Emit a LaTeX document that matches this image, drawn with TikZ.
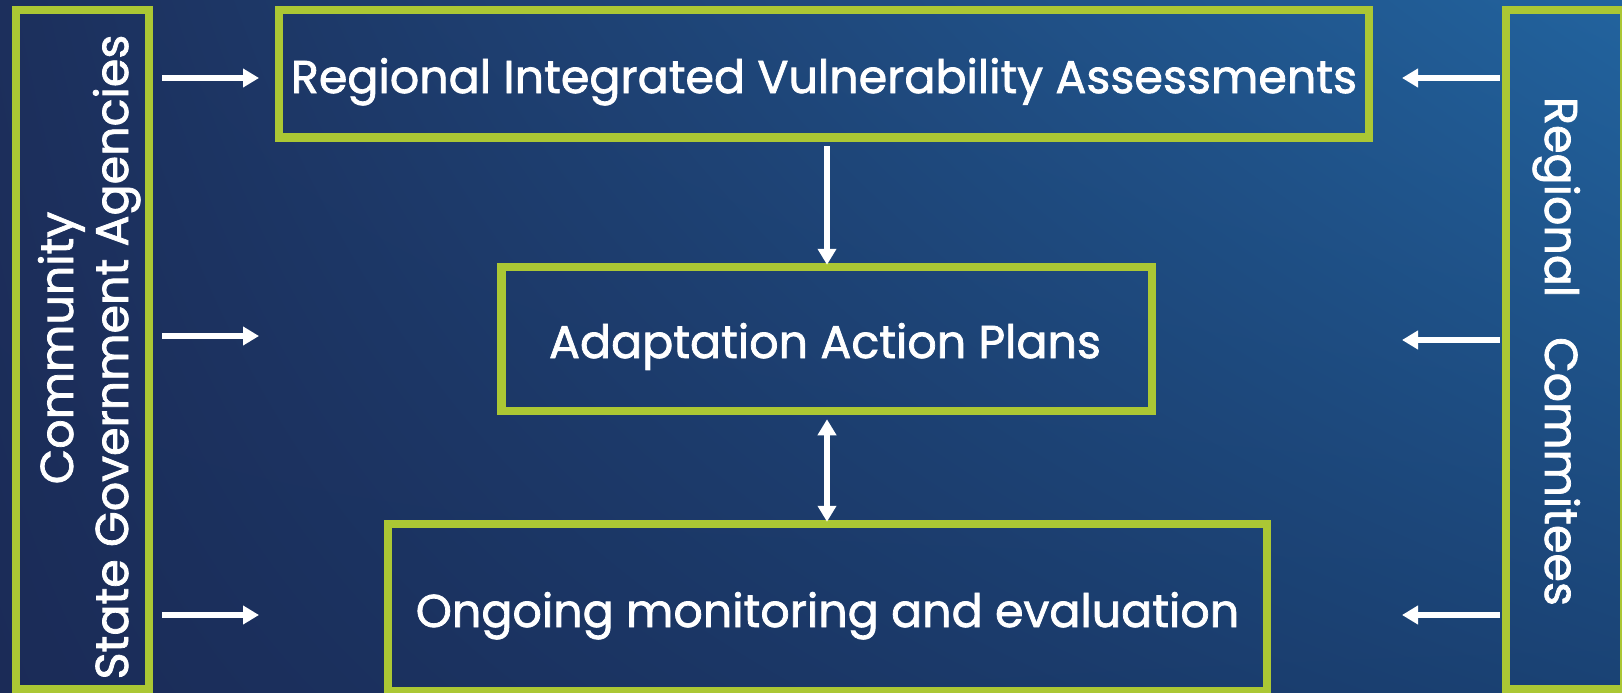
\documentclass[tikz,border=0pt]{standalone}
\usepackage{fontspec}
\setmainfont{Poppins}[FakeBold=1.6]
\usetikzlibrary{arrows.meta,shadings}
\definecolor{boxgreen}{RGB}{171,199,52}
\definecolor{bgUL}{RGB}{28,47,92}
\definecolor{bgUR}{RGB}{34,99,158}
\definecolor{bgLL}{RGB}{27,43,87}
\definecolor{bgLR}{RGB}{26,66,116}
\begin{document}
\begin{tikzpicture}[x=1pt,y=-1pt,
  box/.style={draw=boxgreen, line width=8.5pt, inner sep=0pt},
  lbl/.style={text=white, font=\fontsize{46}{54}\selectfont, inner sep=0pt, anchor=base},
  arr/.style={draw=white, line width=6pt, -{Triangle[width=18pt,length=16pt]}},
  darr/.style={draw=white, line width=6pt, {Triangle[width=18pt,length=16pt]}-{Triangle[width=18pt,length=16pt]}}]
\useasboundingbox (0,0) rectangle (1622,693);
\shade[upper left=bgUL, upper right=bgUR, lower left=bgLL, lower right=bgLR] (0,0) rectangle (1622,693);
% boxes
\node[box, minimum width=133pt, minimum height=679pt] (lbox) at (82.5,349.5) {};
\node[box, minimum width=118pt, minimum height=679pt] (rbox) at (1565,349.5) {};
\node[box, minimum width=1090pt, minimum height=127.5pt] (tbox) at (824,73.75) {};
\node[box, minimum width=650.5pt, minimum height=144pt] (mbox) at (826.75,339) {};
\node[box, minimum width=879pt, minimum height=167pt] (bbox) at (827.5,607.5) {};
% labels
\node[lbl] (ttxt) at (824,93) {Regional Integrated Vulnerability Assessments};
\node[lbl] (mtxt) at (825,358) {Adaptation Action Plans};
\node[lbl] (btxt) at (827.5,627) {Ongoing monitoring and evaluation};
\node[lbl, rotate=90] (l1txt) at (73,348) {Community};
\node[lbl, rotate=90] (l2txt) at (128,357) {State Government Agencies};
\node[lbl, rotate=-90] (rtxt) at (1545,351.5) {Regional\hspace{0.6em} Commitees};
% free arrow ends
\coordinate (la1) at (259,78);
\coordinate (la2) at (259,336);
\coordinate (la3) at (259,615);
\coordinate (ra1) at (1402,78);
\coordinate (ra2) at (1402,340);
\coordinate (ra3) at (1402,615);
\draw[arr, shorten <=9pt] (lbox.east |- la1) -- (la1);
\draw[arr, shorten <=9pt] (lbox.east |- la2) -- (la2);
\draw[arr, shorten <=9pt] (lbox.east |- la3) -- (la3);
\draw[arr, shorten <=2pt] (rbox.west |- ra1) -- (ra1);
\draw[arr, shorten <=2pt] (rbox.west |- ra2) -- (ra2);
\draw[arr, shorten <=2pt] (rbox.west |- ra3) -- (ra3);
\draw[arr, shorten <=4pt, shorten >=-2pt] (tbox.south -| 827,0) -- (mbox.north -| 827,0);
\draw[darr, shorten <=4pt, shorten >=-2pt] (mbox.south -| 827,0) -- (bbox.north -| 827,0);
\end{tikzpicture}
\end{document}
